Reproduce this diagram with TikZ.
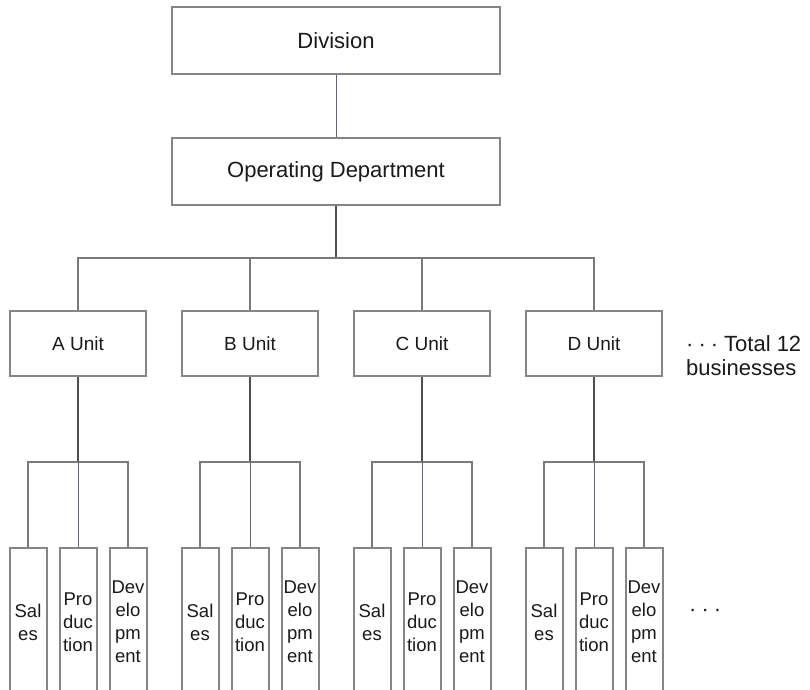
\documentclass[tikz,border=0pt]{standalone}
\usepackage{fontspec}
\setmainfont{Liberation Sans}
\definecolor{boxgray}{HTML}{858585}
\definecolor{lngray}{HTML}{7A7A7A}
\definecolor{lndark}{HTML}{505050}
\definecolor{lnblue}{HTML}{5A6682}
\definecolor{txt}{HTML}{1A1A1A}
\begin{document}
\begin{tikzpicture}[x=1pt,y=-1pt,
  box/.style={draw=boxgray, line width=2pt, fill=white, inner sep=0pt, align=center, text=txt},
  bigbox/.style={box, minimum width=328pt, minimum height=67pt, font=\fontsize{22}{26}\selectfont},
  unitbox/.style={box, minimum width=136pt, minimum height=65pt, font=\fontsize{19}{23}\selectfont},
  smallbox/.style={box, minimum width=37pt, minimum height=148pt, font=\fontsize{18.5}{23}\selectfont},
  grayline/.style={draw=lngray, line width=1.3pt},
  darkline/.style={draw=lndark, line width=2pt},
  blueline/.style={draw=lnblue, line width=1pt},
  note/.style={text=txt, inner sep=0pt, align=left, font=\fontsize{22}{24}\selectfont}]
\useasboundingbox (0,0) rectangle (810,689);
\clip (0,0) rectangle (810,689);

\node[bigbox] (div) at (336,40.5) {Division};
\node[bigbox] (op) at (336,171.5) {Operating Department};
\draw[blueline] (div) -- (op);
\coordinate (j0) at (op.south |- 0,258);
\draw[darkline] (op.south) -- (j0);

\foreach \L/\U/\X in {a/A/78,b/B/250,c/C/422,d/D/594}{
  \node[unitbox] (u\L) at (\X,343.5) {\U\ Unit};
  \node[smallbox] (s\L) at (\X-50,622) {Sal\\es};
  \node[smallbox] (p\L) at (\X,622) {Pro\\duc\\tion};
  \node[smallbox] (d\L) at (\X+50,622) {Dev\\elo\\pm\\ent};
  \coordinate (j\L) at (u\L.south |- 0,462);
  \draw[darkline] (u\L.south) -- (j\L);
  \draw[grayline] (s\L.north) |- (j\L) -| (d\L.north);
  \draw[blueline] (j\L) -- (p\L.north);
}
\draw[grayline] (ua.north) |- (j0) -| (ud.north);
\draw[grayline] (ub.north) -- (ub.north |- j0);
\draw[grayline] (uc.north) -- (uc.north |- j0);

\node[note, anchor=west] (total) at (686,356) {·\kern5pt·\kern5pt·\kern6pt Total 12\\businesses};
\node[note, anchor=west] (more) at (689,613) {·\kern5pt·\kern5pt·};
\end{tikzpicture}
\end{document}
